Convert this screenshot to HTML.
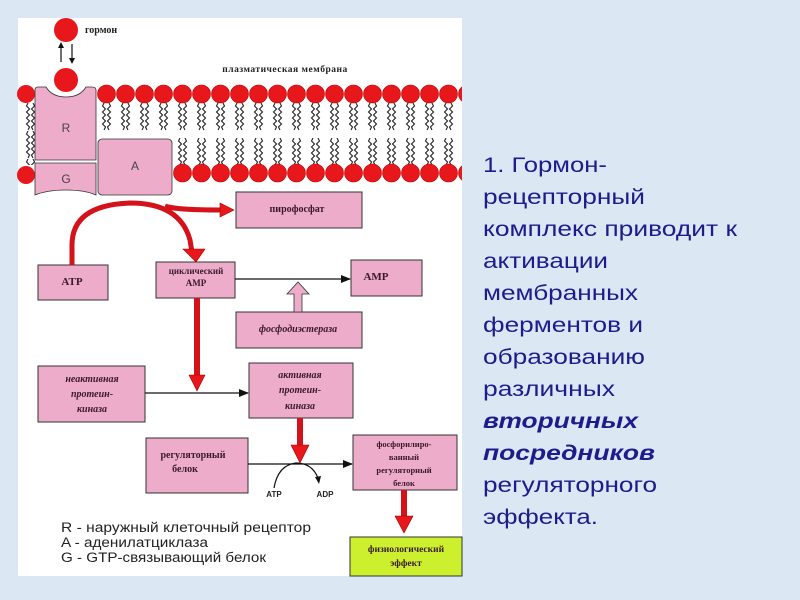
<!DOCTYPE html>
<html><head><meta charset="utf-8"><style>
html,body{margin:0;padding:0;width:800px;height:600px;overflow:hidden;background:#dbe7f3;}
</style></head><body>
<svg width="800" height="600" xmlns="http://www.w3.org/2000/svg" font-family="'Liberation Serif',serif">
<defs>
<pattern id="tailT" x="97" y="103" width="19" height="28" patternUnits="userSpaceOnUse">
<path d="M7 0 l-1.5 3 l3 3 l-3 3 l3 3 l-3 3 l3 3 l-3 3 l3 3 l-1.5 3 M12 0 l1.5 3 l-3 3 l3 3 l-3 3 l3 3 l-3 3 l3 3 l-3 3 l1.5 3" fill="none" stroke="#222" stroke-width="1.1"/>
</pattern>
<pattern id="tailB" x="97" y="138" width="19" height="28" patternUnits="userSpaceOnUse">
<path d="M7 0 l-1.5 3 l3 3 l-3 3 l3 3 l-3 3 l3 3 l-3 3 l3 3 l-1.5 3 M12 0 l1.5 3 l-3 3 l3 3 l-3 3 l3 3 l-3 3 l3 3 l-3 3 l1.5 3" fill="none" stroke="#222" stroke-width="1.1"/>
</pattern>
<pattern id="headT" x="97" y="84" width="19" height="20" patternUnits="userSpaceOnUse">
<circle cx="9.5" cy="10" r="9" fill="#e8171c" stroke="#b00" stroke-width="0.6"/>
</pattern>
<pattern id="headB" x="97" y="163" width="19" height="20" patternUnits="userSpaceOnUse">
<circle cx="9.5" cy="10" r="9" fill="#e8171c" stroke="#b00" stroke-width="0.6"/>
</pattern>
<marker id="ah" markerWidth="10" markerHeight="8" refX="9" refY="4" orient="auto" markerUnits="userSpaceOnUse"><path d="M0 0 L10 4 L0 8 Z" fill="#111"/></marker>
</defs>
<rect x="18" y="18" width="444" height="558" fill="#fff"/>
<circle cx="66" cy="30" r="12" fill="#e8171c"/>
<text x="85" y="33" font-size="10" font-weight="bold" fill="#222">гормон</text>
<line x1="61" y1="62" x2="61" y2="46" stroke="#111" stroke-width="1.2"/><path d="M58 48 L61 42 L64 48Z" fill="#111"/>
<line x1="72" y1="44" x2="72" y2="60" stroke="#111" stroke-width="1.2"/><path d="M69 58 L72 64 L75 58Z" fill="#111"/>
<circle cx="66" cy="80" r="12" fill="#e8171c"/>
<text x="285" y="72" font-size="9.5" font-weight="bold" fill="#222" text-anchor="middle" letter-spacing="0.5">плазматическая мембрана</text>
<rect x="97" y="103" width="365" height="28" fill="url(#tailT)"/>
<rect x="173" y="138" width="289" height="28" fill="url(#tailB)"/>
<rect x="18" y="103" width="17" height="62" fill="url(#tailT)"/>
<rect x="97" y="84" width="365" height="20" fill="url(#headT)"/>
<rect x="173" y="163" width="289" height="20" fill="url(#headB)"/>
<circle cx="26" cy="94" r="9" fill="#e8171c"/><circle cx="26" cy="175" r="9" fill="#e8171c"/>
<path d="M38 87 Q35 87 35 90 L35 160 L96 160 L96 90 Q96 87 92 87 L86 87 Q80 97 66 97 Q52 97 46 87 Z" fill="#eeaccb" stroke="#333" stroke-width="0.8"/>
<text x="66" y="132" font-family="'Liberation Sans',sans-serif" font-size="12" fill="#444" text-anchor="middle">R</text>
<path d="M35 163 L96 163 L96 195 Q85 190 66 190 Q47 190 35 195 Z" fill="#eeaccb" stroke="#333" stroke-width="0.8"/>
<text x="66" y="183" font-family="'Liberation Sans',sans-serif" font-size="12" fill="#444" text-anchor="middle">G</text>
<rect x="98" y="139" width="74" height="56" rx="4" fill="#eeaccb" stroke="#333" stroke-width="0.8"/>
<text x="135" y="170" font-family="'Liberation Sans',sans-serif" font-size="12" fill="#444" text-anchor="middle">A</text>
<g fill="#eeaccb" stroke="#333" stroke-width="1">
<rect x="236" y="192" width="126" height="36"/>
<rect x="38" y="265" width="70" height="35"/>
<rect x="156" y="262" width="79" height="36"/>
<rect x="351" y="260" width="71" height="36"/>
<rect x="236" y="312" width="126" height="36"/>
<rect x="38" y="366" width="107" height="56"/>
<rect x="249" y="363" width="104" height="55"/>
<rect x="146" y="438" width="102" height="55"/>
<rect x="353" y="435" width="104" height="55"/>
</g>
<rect x="350" y="537" width="112" height="39" fill="#ccf02e" stroke="#333" stroke-width="1"/>
<g font-weight="bold" fill="#3a1a2a" text-anchor="middle">
<text x="297" y="212" font-size="10">пирофосфат</text>
<text x="72" y="285" font-size="11">ATP</text>
<text x="196" y="274" font-size="9">циклический</text>
<text x="196" y="286" font-size="9">AMP</text>
<text x="376" y="280" font-size="11">AMP</text>
<text x="298" y="332" font-size="10" font-style="italic">фосфодиэстераза</text>
<text x="92" y="382" font-size="10" font-style="italic">неактивная</text>
<text x="92" y="397" font-size="10" font-style="italic">протеин-</text>
<text x="92" y="412" font-size="10" font-style="italic">киназа</text>
<text x="300" y="378" font-size="10" font-style="italic">активная</text>
<text x="300" y="393" font-size="10" font-style="italic">протеин-</text>
<text x="300" y="409" font-size="10" font-style="italic">киназа</text>
<text x="193" y="458" font-size="10">регуляторный</text>
<text x="185" y="472" font-size="10">белок</text>
<text x="404" y="447" font-size="8.5">фосфорилиро-</text>
<text x="404" y="460" font-size="8.5">ванный</text>
<text x="404" y="473" font-size="8.5">регуляторный</text>
<text x="404" y="486" font-size="8.5">белок</text>
<text x="406" y="552" font-size="9.5">физиологический</text>
<text x="406" y="566" font-size="9.5">эффект</text>
</g>
<path d="M72 265 L72 245 Q72 205 130 203 Q180 203 190 240 L192 252" fill="none" stroke="#d4121a" stroke-width="5"/>
<path d="M183 249 L196 262 L205 249 Z" fill="#e8171c" stroke="#a00" stroke-width="0.6"/>
<path d="M165 206 Q175 210 222 210" fill="none" stroke="#d4121a" stroke-width="5"/>
<path d="M220 203 L234 210 L220 217 Z" fill="#e8171c" stroke="#a00" stroke-width="0.6"/>
<line x1="235" y1="279" x2="350" y2="279" stroke="#111" stroke-width="1.2" marker-end="url(#ah)"/>
<path d="M294 312 L294 294 L287 294 L298 282 L309 294 L302 294 L302 312 Z" fill="#eeaccb" stroke="#333" stroke-width="0.8"/>
<line x1="145" y1="393" x2="248" y2="393" stroke="#111" stroke-width="1.2" marker-end="url(#ah)"/>
<line x1="248" y1="464" x2="352" y2="464" stroke="#111" stroke-width="1.2" marker-end="url(#ah)"/>
<path d="M274 488 Q278 465 296 463 Q312 463 318 478" fill="none" stroke="#111" stroke-width="1.2"/>
<path d="M315 477 L319 484 L321 476 Z" fill="#111"/>
<g font-family="'Liberation Sans',sans-serif" font-size="8" font-weight="bold" fill="#222" text-anchor="middle">
<text x="274" y="497">ATP</text><text x="325" y="497">ADP</text></g>
<rect x="194" y="298" width="6" height="78" fill="#d4121a"/>
<path d="M189 375 L197 391 L205 375 Z" fill="#e8171c" stroke="#a00" stroke-width="0.6"/>
<rect x="297" y="418" width="6" height="30" fill="#d4121a"/>
<path d="M291 445 L300 463 L309 445 Z" fill="#e8171c" stroke="#a00" stroke-width="0.6"/>
<rect x="401" y="490" width="6" height="27" fill="#d4121a"/>
<path d="M395 516 L404 533 L413 516 Z" fill="#e8171c" stroke="#a00" stroke-width="0.6"/>
<g font-family="'Liberation Sans',sans-serif" font-size="13.5" fill="#222" lengthAdjust="spacingAndGlyphs">
<text x="61" y="532" textLength="250" lengthAdjust="spacingAndGlyphs">R - наружный клеточный рецептор</text>
<text x="61" y="547" textLength="147" lengthAdjust="spacingAndGlyphs">A - аденилатциклаза</text>
<text x="61" y="562" textLength="205" lengthAdjust="spacingAndGlyphs">G - GTP-связывающий белок</text>
</g>
<g font-family="'Liberation Sans',sans-serif" font-size="21" fill="#1c1c8c">
<text x="483" y="172" textLength="124" lengthAdjust="spacingAndGlyphs">1. Гормон-</text>
<text x="483" y="204" textLength="162" lengthAdjust="spacingAndGlyphs">рецепторный</text>
<text x="483" y="236" textLength="254" lengthAdjust="spacingAndGlyphs">комплекс приводит к</text>
<text x="483" y="268" textLength="125" lengthAdjust="spacingAndGlyphs">активации</text>
<text x="483" y="300" textLength="155" lengthAdjust="spacingAndGlyphs">мембранных</text>
<text x="483" y="332" textLength="160" lengthAdjust="spacingAndGlyphs">ферментов и</text>
<text x="483" y="364" textLength="162" lengthAdjust="spacingAndGlyphs">образованию</text>
<text x="483" y="396" textLength="132" lengthAdjust="spacingAndGlyphs">различных</text>
<text x="483" y="428" font-weight="bold" font-style="italic" textLength="155" lengthAdjust="spacingAndGlyphs">вторичных</text>
<text x="483" y="460" font-weight="bold" font-style="italic" textLength="172" lengthAdjust="spacingAndGlyphs">посредников</text>
<text x="483" y="492" textLength="174" lengthAdjust="spacingAndGlyphs">регуляторного</text>
<text x="483" y="524" textLength="115" lengthAdjust="spacingAndGlyphs">эффекта.</text>
</g>
</svg>
</body></html>
